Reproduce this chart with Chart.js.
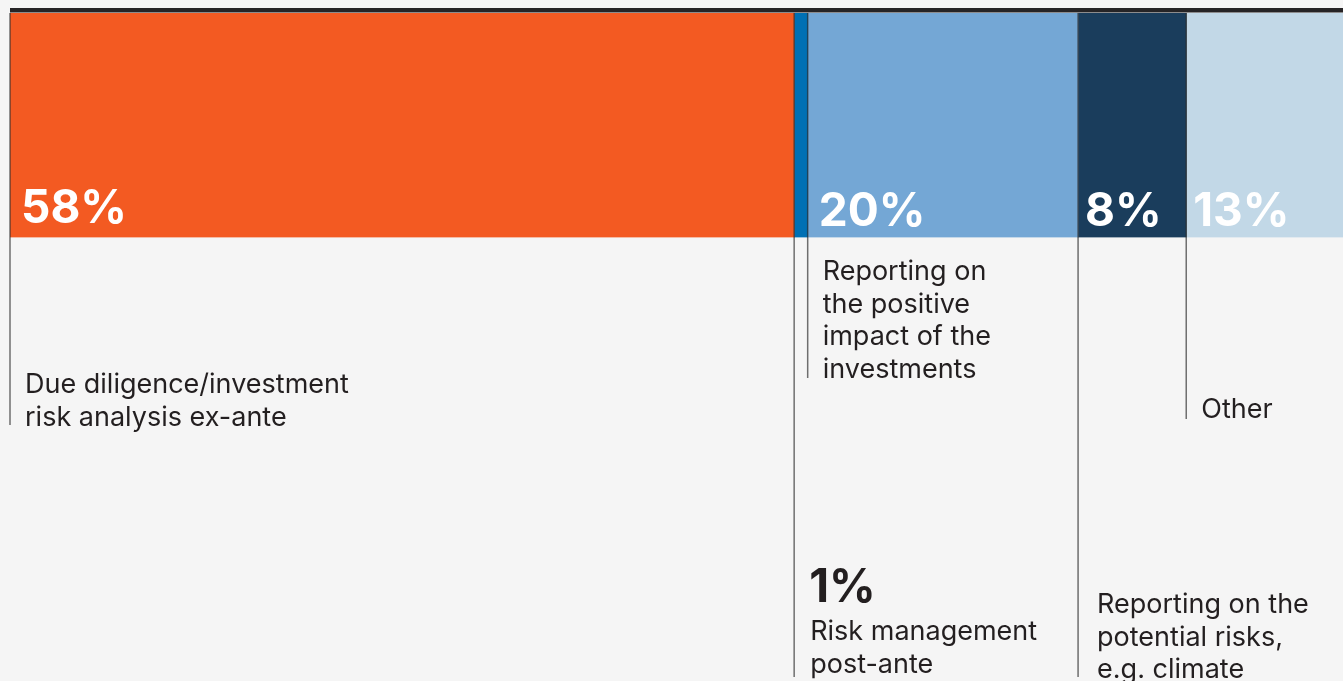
<!DOCTYPE html>
<html>
<head>
<meta charset="utf-8">
<script src="https://cdn.jsdelivr.net/npm/chart.js@4/dist/chart.umd.min.js"></script>
<style>
  html, body { margin: 0; padding: 0; background: #f5f5f5; overflow: hidden; }
  #wrap { width: 1343px; height: 681px; overflow: hidden; position: relative; }
  canvas { display: block; }
</style>
</head>
<body>
<div id="wrap"><canvas id="chart" width="1362" height="681"></canvas></div>
<script>
// Uses of the impact data, share of respondents (%)
const categories = [
  'Due diligence/investment risk analysis ex-ante',
  'Risk management post-ante',
  'Reporting on the positive impact of the investments',
  'Reporting on the potential risks, e.g. climate',
  'Other'
];
const shares = [58, 1, 20, 8, 13];
const labelLines = [
  ['Due diligence/investment', 'risk analysis ex-ante'],
  ['Risk management', 'post-ante'],
  ['Reporting on', 'the positive', 'impact of the', 'investments'],
  ['Reporting on the', 'potential risks,', 'e.g. climate'],
  ['Other']
];

const colors = ['#f35a22', '#0070b4', '#74a7d5', '#1a3d5c', '#c2d8e7'];

// Where each segment's value and caption sit
const placement = [
  { inside: true,  pctDx: 11, pctBase: 223, lineEnd: 425, textBase: 393, textDx: 15 },
  { inside: false, pctDx: 15, pctBase: 602, lineEnd: 677, textBase: 640, textDx: 16 },
  { inside: true,  pctDx: 11, pctBase: 226, lineEnd: 378, textBase: 280, textDx: 15 },
  { inside: true,  pctDx: 7,  pctBase: 226, lineEnd: 677, textBase: 613, textDx: 19 },
  { inside: true,  pctDx: 7,  pctBase: 226, lineEnd: 419, textBase: 418, textDx: 15 }
];

const TEXT = '#231f20';
const LINE_H = 32.5;

const annotate = {
  id: 'annotate',
  afterDatasetsDraw(chart) {
    const ctx = chart.ctx;
    const area = chart.chartArea;
    ctx.save();
    // heavy rule above the bar
    ctx.fillStyle = '#262426';
    ctx.fillRect(area.left, area.top - 5, chart.width - area.left, 4.5);

    chart.data.datasets.forEach((ds, i) => {
      const el = chart.getDatasetMeta(i).data[0];
      const left = Math.min(el.base, el.x);
      const p = placement[i];

      // leader line from bar top down to the caption
      ctx.strokeStyle = 'rgba(45,45,45,0.68)';
      ctx.lineWidth = 1.5;
      ctx.beginPath();
      ctx.moveTo(left, area.top);
      ctx.lineTo(left, p.lineEnd);
      ctx.stroke();

      // value label
      ctx.font = 'bold 46px Inter, "Liberation Sans", sans-serif';
      ctx.textBaseline = 'alphabetic';
      ctx.textAlign = 'left';
      ctx.fillStyle = p.inside ? '#ffffff' : TEXT;
      ctx.fillText(ds.data[0] + '%', left + p.pctDx, p.pctBase);

      // caption
      ctx.font = '27px Inter, "Liberation Sans", sans-serif';
      ctx.fillStyle = TEXT;
      labelLines[i].forEach((line, k) => {
        ctx.fillText(line, left + p.textDx, p.textBase + k * LINE_H);
      });
    });
    ctx.restore();
  }
};

new Chart(document.getElementById('chart'), {
  type: 'bar',
  data: {
    labels: [''],
    datasets: categories.map((c, i) => ({
      label: c,
      data: [shares[i]],
      backgroundColor: colors[i],
      borderWidth: 0,
      barPercentage: 1,
      categoryPercentage: 1
    }))
  },
  options: {
    indexAxis: 'y',
    responsive: false,
    animation: false,
    devicePixelRatio: 1,
    layout: { padding: { left: 10, top: 13, right: 0, bottom: 681 - 237.5 } },
    scales: {
      x: { stacked: true, min: 0, max: 100, display: false },
      y: { stacked: true, display: false }
    },
    plugins: { legend: { display: false }, tooltip: { enabled: false } }
  },
  plugins: [annotate]
});
</script>
</body>
</html>
